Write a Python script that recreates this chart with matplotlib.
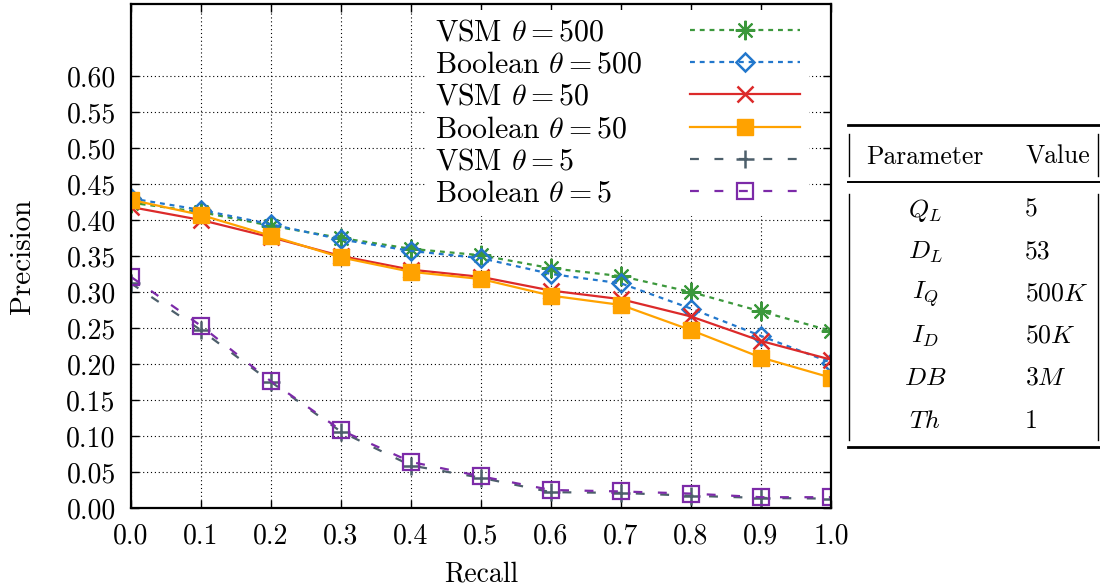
import matplotlib
matplotlib.use('Agg')
import matplotlib.pyplot as plt
from matplotlib.lines import Line2D
import numpy as np

plt.rcParams['font.family'] = 'cmr10'
plt.rcParams['mathtext.fontset'] = 'cm'
plt.rcParams['axes.formatter.use_mathtext'] = True

# recall levels and precision curves
recall = [0.0, 0.1, 0.2, 0.3, 0.4, 0.5, 0.6, 0.7, 0.8, 0.9, 1.0]
vsm_500 = [0.424, 0.411, 0.392, 0.375, 0.360, 0.351, 0.333, 0.322, 0.300, 0.273, 0.246]
bool_500 = [0.430, 0.414, 0.394, 0.373, 0.357, 0.347, 0.325, 0.312, 0.277, 0.239, 0.202]
vsm_50 = [0.418, 0.400, 0.376, 0.350, 0.331, 0.321, 0.302, 0.290, 0.266, 0.232, 0.206]
bool_50 = [0.428, 0.407, 0.378, 0.348, 0.328, 0.318, 0.295, 0.282, 0.247, 0.209, 0.181]
vsm_5 = [0.312, 0.247, 0.175, 0.106, 0.059, 0.042, 0.022, 0.021, 0.017, 0.014, 0.013]
bool_5 = [0.321, 0.253, 0.176, 0.108, 0.064, 0.044, 0.025, 0.023, 0.020, 0.015, 0.015]

# parameter table
param_names = [r'$Q_L$', r'$D_L$', r'$I_Q$', r'$I_D$', r'$DB$', r'$Th$']
param_values = ['5', '53', r'500$K$', r'50$K$', r'3$M$', '1']

fig = plt.figure(figsize=(11, 5.88), dpi=100)
ax = fig.add_axes([131 / 1100, 1 - 508 / 588, 700 / 1100, 504 / 588])

lw = 1.6
ax.plot(recall, vsm_500, color='#3c983c', ls=(0, (2.2, 2.2)), lw=lw, marker=(8, 2, 0),
        ms=14, mec='#3c983c', mew=1.5, label=r'VSM $\theta = 500$')
ax.plot(recall, bool_500, color='#2277cc', ls=(0, (2.2, 2.2)), lw=lw, marker='D',
        ms=9, mfc='none', mec='#2277cc', mew=1.8, label=r'Boolean $\theta = 500$')
ax.plot(recall, vsm_50, color='#dc2a2a', ls='-', lw=lw, marker='x',
        ms=12, mec='#dc2a2a', mew=1.8, label=r'VSM $\theta = 50$')
ax.plot(recall, bool_50, color='#ffa200', ls='-', lw=lw, marker='s',
        ms=11, mfc='#ffa200', mec='#ffa200', label=r'Boolean $\theta = 50$')
ax.plot(recall, vsm_5, color='#4d5f6b', ls=(0, (4, 7)), lw=lw, marker='+',
        ms=13, mec='#4d5f6b', mew=1.8, label=r'VSM $\theta = 5$')
ax.plot(recall, bool_5, color='#7c2aa8', ls=(0, (4, 7)), lw=lw, marker='s',
        ms=11, mfc='none', mec='#7c2aa8', mew=1.6, label=r'Boolean $\theta = 5$')

ax.set_xlim(0, 1)
ax.set_ylim(0, 0.7)
ax.set_xticks(np.arange(0, 1.01, 0.1))
ax.set_xticklabels(['%.1f' % v for v in np.arange(0, 1.01, 0.1)])
ax.set_yticks(np.arange(0, 0.601, 0.05))
ax.set_yticklabels(['%.2f' % v for v in np.arange(0, 0.601, 0.05)])
ax.tick_params(direction='in', top=True, right=True, length=6, width=1,
               labelsize=20, pad=11)
ax.grid(True, color='black', ls=(0, (1, 2.5)), lw=0.8)
for s in ax.spines.values():
    s.set_linewidth(1.6)
ax.set_xlabel('Recall', fontsize=20, labelpad=8)
ax.set_ylabel('Precision', fontsize=21, labelpad=22)

leg = ax.legend(loc='upper right', bbox_to_anchor=(0.969, 0.988),
                markerfirst=False, handlelength=3.7, handletextpad=1.6,
                labelspacing=0.16, borderpad=0.3, borderaxespad=0, fontsize=21.5,
                frameon=True, fancybox=False, framealpha=1, edgecolor='none')
leg.get_frame().set_linewidth(0)

# left-align the labels: widen the gap before each handle by the width difference
fig.canvas.draw()
renderer = fig.canvas.get_renderer()
rows = leg._legend_handle_box.get_children()[0].get_children()
widths = [row.get_children()[0].get_bbox(renderer).width for row in rows]
for row, w in zip(rows, widths):
    row.sep += (max(widths) - w) * 72 / fig.dpi


# table drawn in figure pixel coordinates
def fx(px):
    return px / 1100


def fy(py):
    return 1 - py / 588


def hline(py, x0, x1, w):
    fig.add_artist(Line2D([fx(x0), fx(x1)], [fy(py), fy(py)], color='black', lw=w))


def vline(px, y0, y1, w=1.0):
    fig.add_artist(Line2D([fx(px), fx(px)], [fy(y0), fy(y1)], color='black', lw=w))


hline(125, 848, 1100, 2.0)
hline(182, 848, 1100, 1.4)
hline(447, 848, 1100, 2.0)
for xv in (849, 1097.5):
    vline(xv, 134, 176)
    vline(xv, 194, 440)

fig.text(fx(925), fy(157), 'Parameter', fontsize=18.5, ha='center', va='center')
fig.text(fx(1025), fy(157), 'Value', fontsize=18.5, ha='left', va='center')
row_y = [210, 252, 294, 336, 378, 421]
for name, val, yy in zip(param_names, param_values, row_y):
    fig.text(fx(925), fy(yy), name, fontsize=18.5, ha='center', va='center')
    fig.text(fx(1025), fy(yy), val, fontsize=18.5, ha='left', va='center')

fig.savefig('out.png', dpi=100)
